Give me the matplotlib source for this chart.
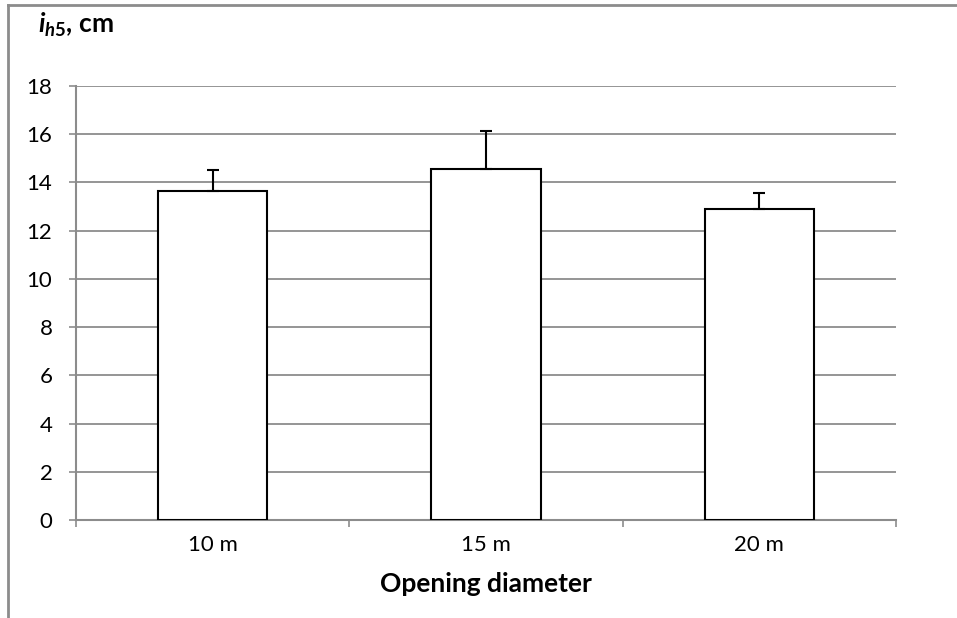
import numpy as np
import matplotlib.pyplot as plt
from matplotlib.lines import Line2D

plt.rcParams['font.family'] = ['Lato', 'DejaVu Sans']
plt.rcParams['mathtext.fontset'] = 'custom'
plt.rcParams['mathtext.rm'] = 'Lato:bold'
plt.rcParams['mathtext.it'] = 'Lato:italic:bold'
plt.rcParams['mathtext.bf'] = 'Lato:bold'

categories = ['10 m', '15 m', '20 m']
values = [13.65, 14.55, 12.88]
errors = [0.87, 1.57, 0.70]
yticks = np.arange(0, 20, 2)

fig = plt.figure(figsize=(9.57, 6.18), dpi=100)
ax = fig.add_axes([76 / 957, 1 - 520 / 618, (896 - 76) / 957, (520 - 86) / 618])

x = np.arange(len(categories))
ax.bar(x, values, width=0.4, color='white', edgecolor='black', linewidth=1.5, zorder=3)
ax.errorbar(x, values, yerr=[np.zeros(len(errors)), errors], fmt='none',
            ecolor='black', elinewidth=1.5, capsize=4, capthick=1.5, zorder=4)

ax.set_xlim(-0.5, 2.5)
ax.set_ylim(0, 18)
ax.set_yticks(yticks)
ax.yaxis.grid(True, color='#8c8c8c', linewidth=1.3, zorder=0)
ax.set_axisbelow(True)

# category labels sit between the boundary ticks
ax.set_xticks([-0.5, 0.5, 1.5, 2.5])
ax.set_xticklabels([])
ax.set_xticks(x, minor=True)
ax.set_xticklabels(categories, minor=True)
ax.tick_params(axis='x', which='minor', length=0, pad=11, labelsize=16)
ax.tick_params(axis='x', which='major', length=5, width=1.2, color='#8c8c8c')
ax.tick_params(axis='y', length=5, width=1.2, color='#8c8c8c', labelsize=16, pad=12)

for s in ['top', 'right']:
    ax.spines[s].set_visible(False)
for s in ['left', 'bottom']:
    ax.spines[s].set_color('#8c8c8c')
    ax.spines[s].set_linewidth(1.5)

ax.set_xlabel('Opening diameter', fontsize=19, fontweight='bold', labelpad=12)
fig.text(38 / 957, 1 - 25 / 618, r'$i_{\mathit{h5}}$, cm', fontsize=19,
         fontweight='bold', va='center', ha='left')

# outer chart border (cropped on right and bottom)
fig.add_artist(Line2D([8 / 957, 1], [1 - 5 / 618, 1 - 5 / 618], color='#8c8c8c', linewidth=2))
fig.add_artist(Line2D([8 / 957, 8 / 957], [0, 1 - 5 / 618], color='#8c8c8c', linewidth=2))

fig.savefig('out.png', dpi=100)
plt.close()
